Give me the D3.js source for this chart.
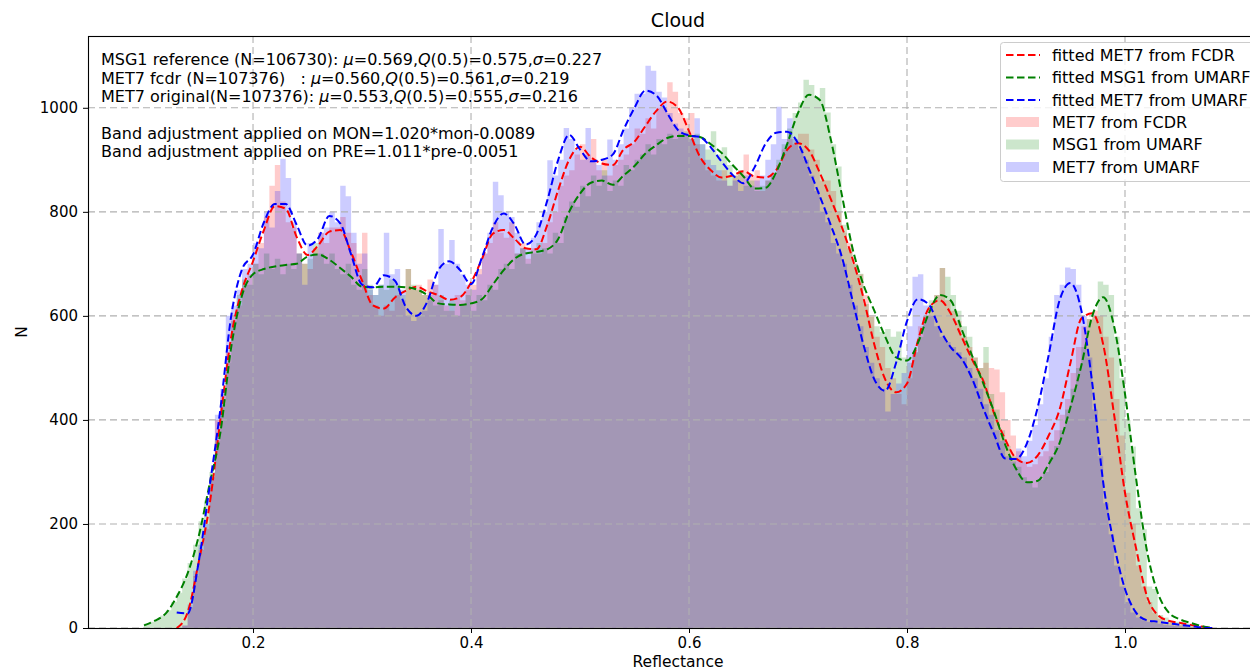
<!DOCTYPE html>
<html><head><meta charset="utf-8">
<script src="https://cdn.jsdelivr.net/npm/d3@7"></script>
<style>body{margin:0;background:#fff} text{font-family:"DejaVu Sans",sans-serif;fill:#000}</style>
</head><body><svg id="c" width="1250" height="672"></svg>
<script>
// ---- data ----
const binStart = 0.1, binWidth = 0.005;
const met7Fcdr = [0,0,0,0,0,0,0,5,40,100,
150,190,290,400,450,530,600,620,660,680,
700,740,790,850,890,820,780,770,720,700,
690,730,760,740,770,770,790,760,740,720,
760,640,620,600,620,610,640,630,690,650,
660,640,670,660,630,620,610,640,630,650,
660,690,720,740,780,760,750,780,720,740,
710,730,720,740,780,800,850,870,880,910,
930,910,940,880,900,870,890,900,910,930,
960,950,980,960,1000,1000,1049,1031,990,980,
990,930,900,880,870,860,880,850,870,880,
910,870,880,840,860,870,890,920,940,930,
950,950,920,900,860,860,840,800,760,740,
700,680,640,600,560,540,500,480,450,430,
480,530,580,600,620,640,692,630,610,590,
560,540,520,500,510,500,497,453,400,370,
340,320,310,315,330,340,360,380,410,440,
490,540,580,594,610,600,560,520,440,370,
260,200,120,80,50,30,18,12,10,8,
6,5,3,2,1,0];
const msg1Umarf = [8,12,16,24,34,50,68,95,125,160,
205,245,300,360,430,510,590,640,670,660,
700,680,720,690,710,680,700,690,720,700,
710,740,720,700,720,690,680,700,660,650,
690,660,640,660,650,670,660,640,690,660,
650,640,630,620,640,610,630,600,620,640,
610,640,630,660,650,690,700,690,720,730,
700,720,740,730,720,760,740,790,820,810,
850,830,870,850,880,840,860,850,890,880,
900,910,930,910,940,930,950,940,950,955,
940,950,930,920,955,910,924,890,870,880,
850,860,840,850,860,870,900,930,960,990,
1010,1054,1044,1020,1038,991,930,887,775,730,
700,681,623,598,580,569,575,560,570,520,
510,530,560,600,630,640,692,675,640,610,
580,560,520,500,540,450,420,380,350,330,
310,290,280,270,285,300,330,350,380,420,
460,500,540,594,600,666,660,640,560,480,
400,349,230,190,80,75,25,20,12,12,
10,8,6,4,2,1];
const met7Umarf = [0,0,0,0,0,0,0,5,45,110,
160,200,290,410,460,600,620,650,690,700,
740,730,800,770,840,902,865,780,720,660,
740,720,760,770,800,780,850,830,760,700,
720,650,640,660,760,680,690,650,600,590,
600,610,640,660,767,700,746,700,680,660,
650,680,720,760,858,832,800,790,760,730,
730,750,780,800,899,870,900,961,940,920,
900,961,900,890,870,939,900,930,960,1000,
1027,1027,1081,1071,1031,1020,990,970,960,950,
940,980,930,900,890,880,860,850,860,840,
870,850,860,870,900,930,1002,940,980,940,
920,900,870,840,800,780,740,720,700,660,
620,580,540,510,480,460,416,450,470,490,
580,675,680,620,600,580,560,550,540,530,
520,500,480,460,430,410,380,360,330,320,
345,330,360,390,430,480,560,640,660,693,
690,660,600,520,420,330,240,180,120,80,
50,30,20,15,12,10,8,6,5,4,
3,2,1,0,0,0];

// fitted curves sampled at 0.10, 0.11, ... 1.08
const fitStart = 0.10, fitStep = 0.01;
const fitMet7Fcdr = [null,null,null,0,30,125,235,400,560,650,
705,765,811,806,752,717,736,762,765,722,
668,620,614,635,648,656,647,640,631,636,
664,709,758,765,748,730,728,775,842,900,
925,905,893,890,920,935,965,994,1012,1000,
955,906,880,866,870,878,868,866,880,919,
932,918,875,825,772,710,635,545,478,453,
470,552,615,630,605,560,515,475,412,363,
326,317,332,370,420,510,595,605,545,410,
260,155,62,25,14,10,6,3,0];
const fitMsg1Umarf = [5,14,28,60,105,175,275,375,540,640,
680,690,695,698,700,714,718,708,692,675,
656,655,656,656,655,651,640,624,622,621,
624,632,660,688,710,720,723,728,748,800,
835,856,860,852,870,888,912,928,942,946,
946,944,930,913,890,868,845,846,876,930,
990,1025,1015,940,835,730,660,610,560,520,
514,548,605,640,630,575,522,470,415,353,
306,280,283,315,356,425,505,600,636,580,
450,290,150,68,30,17,10,4,0];
const fitMet7Umarf = [null,null,null,30,28,125,270,420,600,690,
718,780,815,815,775,735,750,792,778,718,
660,655,678,668,618,600,628,688,705,688,
661,712,770,797,775,737,757,822,900,948,
920,897,900,910,958,1000,1033,1024,990,957,
947,944,924,896,871,855,885,930,952,954,
932,883,830,775,715,630,545,478,456,510,
590,632,622,575,540,518,478,422,372,326,
325,355,425,525,630,663,610,470,280,160,
75,30,15,12,9,6,4,1,0];

const xTicks = [0.2, 0.4, 0.6, 0.8, 1.0];
const yTicks = [0, 200, 400, 600, 800, 1000];
const titleText = "Cloud";
const xLabel = "Reflectance", yLabel = "N";
const statLines = [
  [["MSG1 reference (N=106730): ",0],["μ",1],["=0.569,",0],["Q",1],["(0.5)=0.575,",0],["σ",1],["=0.227",0]],
  [["MET7 fcdr (N=107376)   : ",0],["μ",1],["=0.560,",0],["Q",1],["(0.5)=0.561,",0],["σ",1],["=0.219",0]],
  [["MET7 original(N=107376): ",0],["μ",1],["=0.553,",0],["Q",1],["(0.5)=0.555,",0],["σ",1],["=0.216",0]]
];
const adjLines = ["Band adjustment applied on MON=1.020*mon-0.0089",
                  "Band adjustment applied on PRE=1.011*pre-0.0051"];
const lineNames = ["fitted MET7 from FCDR","fitted MSG1 from UMARF","fitted MET7 from UMARF"];
const histNames = ["MET7 from FCDR","MSG1 from UMARF","MET7 from UMARF"];
const colors = ["#ff0000","#008000","#0000ff"];

// ---- drawing ----
const svg = d3.select("#c");
const L = 88, R = 1268, T = 36, B = 628;   // axes box extends slightly past the right edge
const x = d3.scaleLinear().domain([0.0486, 1.1312]).range([L, R]);
const y = d3.scaleLinear().domain([0, 1138]).range([B, T]);

svg.append("defs").append("clipPath").attr("id","clip")
  .append("rect").attr("x",L).attr("y",T).attr("width",R-L).attr("height",B-T);
const plot = svg.append("g").attr("clip-path","url(#clip)");

// histograms (stepfilled, alpha 0.2)
const hists = [met7Fcdr, msg1Umarf, met7Umarf];
const area = d3.area().x(d=>x(d[0])).y0(y(0)).y1(d=>y(d[1])).curve(d3.curveStepAfter);
hists.forEach((h,k)=>{
  const pts = h.map((c,i)=>[binStart+i*binWidth, c]);
  pts.push([binStart+h.length*binWidth, h[h.length-1]]);
  plot.append("path").attr("d", area(pts)).attr("fill", colors[k]).attr("fill-opacity",0.2);
});

// grid
const grid = plot.append("g").attr("stroke","#b0b0b0").attr("stroke-width",1.1).attr("stroke-dasharray","7,4");
xTicks.forEach(v=>grid.append("line").attr("x1",x(v)).attr("x2",x(v)).attr("y1",T).attr("y2",B));
yTicks.forEach(v=>grid.append("line").attr("x1",L).attr("x2",R).attr("y1",y(v)).attr("y2",y(v)));

// fitted lines
const fits = [fitMet7Fcdr, fitMsg1Umarf, fitMet7Umarf];
const line = d3.line().defined(d=>d[1]!==null).x(d=>x(d[0])).y(d=>y(d[1])).curve(d3.curveMonotoneX);
fits.forEach((f,k)=>{
  const pts = f.map((v,i)=>[fitStart+i*fitStep, v]);
  plot.append("path").attr("d", line(pts)).attr("fill","none").attr("stroke",colors[k])
    .attr("stroke-width",2).attr("stroke-dasharray","7.5,3.5");
});

// axes
const xAxis = d3.axisBottom(x).tickValues(xTicks).tickFormat(d3.format(".1f")).tickSize(5).tickPadding(4);
const yAxis = d3.axisLeft(y).tickValues(yTicks).tickFormat(d3.format("d")).tickSize(5).tickPadding(5);
const gx = svg.append("g").attr("transform",`translate(0,${B})`).call(xAxis);
const gy = svg.append("g").attr("transform",`translate(${L},0)`).call(yAxis);
[gx,gy].forEach(g=>{
  g.select(".domain").remove();
  g.selectAll("text").attr("font-size",15).attr("font-family","DejaVu Sans").attr("fill","#000");
  g.selectAll("line").attr("stroke","#000").attr("stroke-width",1);
});
// spines
svg.append("rect").attr("x",L+0.5).attr("y",T+0.5).attr("width",R-L).attr("height",B-T)
  .attr("fill","none").attr("stroke","#000").attr("stroke-width",1.1);

// titles
svg.append("text").attr("x",(L+R)/2).attr("y",27).attr("text-anchor","middle").attr("font-size",19).text(titleText);
svg.append("text").attr("x",(L+R)/2).attr("y",667).attr("text-anchor","middle").attr("font-size",15.5).text(xLabel);
svg.append("text").attr("transform","translate(27,332) rotate(-90)").attr("text-anchor","middle").attr("font-size",15.5).text(yLabel);

// annotation text
const ann = svg.append("g").attr("font-size",16);
statLines.forEach((parts,i)=>{
  const t = ann.append("text").attr("x",101).attr("y",65+i*18.6).attr("xml:space","preserve").style("white-space","pre");
  parts.forEach(p=>t.append("tspan").attr("font-style",p[1]?"italic":"normal").text(p[0]));
});
adjLines.forEach((s,i)=>{
  ann.append("text").attr("x",101).attr("y",138.5+i*18).text(s);
});

// legend
const lg = svg.append("g");
lg.append("rect").attr("x",1000.5).attr("y",42.5).attr("width",270).attr("height",139).attr("rx",3)
  .attr("fill","#fff").attr("fill-opacity",0.8).attr("stroke","#cccccc");
const rows = [55,77.5,100,122,144.5,167];
lineNames.forEach((n,k)=>{
  lg.append("line").attr("x1",1006).attr("x2",1040).attr("y1",rows[k]).attr("y2",rows[k])
    .attr("stroke",colors[k]).attr("stroke-width",2).attr("stroke-dasharray","7.5,3.5");
  lg.append("text").attr("x",1052).attr("y",rows[k]+5.5).attr("font-size",16).text(n);
});
histNames.forEach((n,k)=>{
  lg.append("rect").attr("x",1006).attr("y",rows[k+3]-5).attr("width",33).attr("height",10)
    .attr("fill",colors[k]).attr("fill-opacity",0.2);
  lg.append("text").attr("x",1052).attr("y",rows[k+3]+5.5).attr("font-size",16).text(n);
});
</script></body></html>
